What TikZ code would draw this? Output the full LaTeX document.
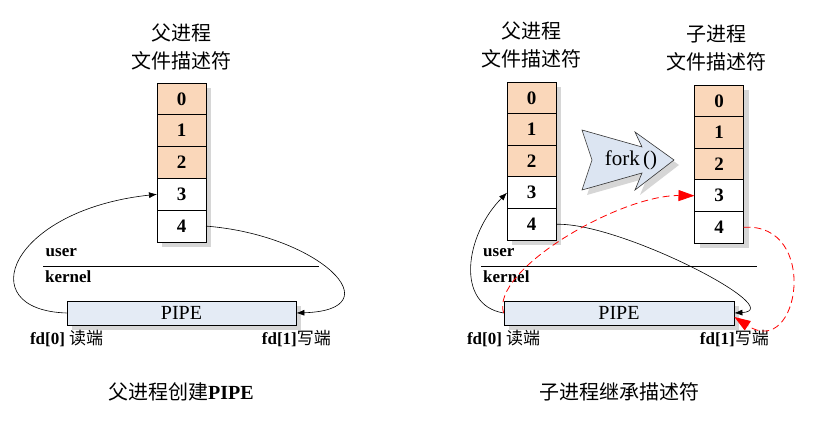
\documentclass[tikz,border=0pt]{standalone}
\usepackage{fontspec}
\setmainfont{Liberation Serif}
\newfontfamily\cjk{Noto Sans CJK SC}
\usetikzlibrary{
  arrows.meta,
  positioning,
  calc,
  shadows
}
\definecolor{fdStd}{HTML}{FAD7BA}
\definecolor{pipeFill}{HTML}{E4EBF5}
\definecolor{forkFill}{HTML}{DCE5F2}
\definecolor{shadowGray}{HTML}{D6D6D6}
\definecolor{inheritRed}{HTML}{FF0000}
\tikzset{
  boxshadow/.style={
    drop shadow={shadow xshift=5pt, shadow yshift=-5pt, fill=shadowGray, opacity=1}
  },
  fdcell/.style={
    draw, line width=0.8pt, outer sep=0pt, minimum width=49pt, minimum height=31.8pt,
    font=\fontsize{19}{19}\selectfont\bfseries, boxshadow
  },
  stdfd/.style={fdcell, fill=fdStd},
  pipefd/.style={fdcell, fill=white},
  pipebox/.style={
    draw, line width=0.8pt, fill=pipeFill, minimum height=24pt,
    font=\fontsize{20}{20}\selectfont, boxshadow
  },
  heading/.style={font=\cjk\fontsize{20}{28}\selectfont, align=center},
  endlabel/.style={font=\fontsize{17}{17}\selectfont, inner sep=1pt},
  modelabel/.style={font=\fontsize{17}{17}\selectfont\bfseries, inner sep=0pt, anchor=base west},
  caption/.style={font=\fontsize{20}{20}\selectfont},
  forkshape/.style={fill=forkFill, draw=black!80, line width=0.6pt, boxshadow},
  rwlink/.style={-{Latex[length=8pt,width=6pt]}, line width=0.6pt},
  inherit/.style={-{Triangle[length=16pt,width=11pt]}, line width=0.8pt, inheritRed, dash pattern=on 7pt off 4pt},
  divider/.style={line width=0.8pt}
}

\begin{document}
\begin{tikzpicture}[x=1pt, y=-1pt]
  \useasboundingbox (0,0) rectangle (820,435);

  % parent creates the pipe
  \node[heading] (tL) at (181,47) {父进程\\文件描述符};
  \foreach \i/\sty in {0/stdfd,1/stdfd,2/stdfd,3/pipefd,4/pipefd}{
    \node[\sty] (L\i) at (181.5, 98.9+31.8*\i) {\i};
  }
  \coordinate (divLa) at (43,266);
  \coordinate (divLb) at (319,266);
  \draw[divider] (divLa) -- (divLb);
  \node[modelabel] (userL) at (45.5,257) {user};
  \node[modelabel] (kernelL) at (45,283) {kernel};
  \node[pipebox, minimum width=229pt] (pipeL) at (181.5,313) {PIPE};
  \node[endlabel, below=4pt] (rdL) at (pipeL.south west) {\textbf{fd[0]} {\cjk 读端}};
  \node[endlabel, below=4pt] (wrL) at (pipeL.south east) {\textbf{fd[1]}{\cjk 写端}};
  \node[caption] (capL) at (181,392) {{\cjk 父进程创建}\textbf{PIPE}};
  \draw[rwlink] (pipeL.west) .. controls (-30,310) and (10,210) .. (L3.west);
  \draw[rwlink] (L4.east) .. controls (320,235) and (395,310) .. (pipeL.east);

  % child inherits the descriptors
  \node[heading] (tP) at (531,45) {父进程\\文件描述符};
  \node[heading] (tC) at (716,48) {子进程\\文件描述符};
  \foreach \i/\sty in {0/stdfd,1/stdfd,2/stdfd,3/pipefd,4/pipefd}{
    \node[\sty] (P\i) at (531.5, 97.9+31.6*\i) {\i};
    \node[\sty] (C\i) at (719, 100.9+31.6*\i) {\i};
  }
  \filldraw[forkshape] (582,130) -- (642,147) -- (635,132) -- (674,160) -- (635,190)
    -- (642,173) -- (582,190) -- (592,160) -- cycle;
  \node[font=\fontsize{21}{21}\selectfont] (fork) at (631,160) {fork\,()};
  \coordinate (divRa) at (481,266);
  \coordinate (divRb) at (757,266);
  \draw[divider] (divRa) -- (divRb);
  \node[modelabel] (userR) at (483,257) {user};
  \node[modelabel] (kernelR) at (483,283) {kernel};
  \node[pipebox, minimum width=230pt] (pipeR) at (619,313) {PIPE};
  \node[endlabel, below=4pt] (rdR) at (pipeR.south west) {\textbf{fd[0]} {\cjk 读端}};
  \node[endlabel, below=4pt] (wrR) at (pipeR.south east) {\textbf{fd[1]}{\cjk 写端}};
  \node[caption] (capR) at (619,392) {\cjk 子进程继承描述符};
  \draw[rwlink] (pipeR.west) .. controls (455,305) and (465,235) .. (P3.west);
  \draw[rwlink] (P4.east) .. controls (620,222) and (790,310) .. (pipeR.east);
  \draw[inherit] (pipeR.west) .. controls (490,270) and (620,195) .. (C3.west);
  \draw[inherit] (C4.east) .. controls (820,222) and (800,360) .. ([yshift=-4pt]pipeR.east);
\end{tikzpicture}
\end{document}
